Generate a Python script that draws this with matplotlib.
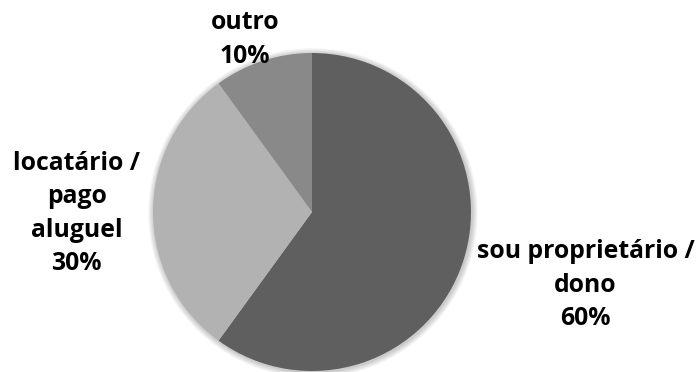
import matplotlib.pyplot as plt
from matplotlib.patches import Circle

# Data
categories = ["sou proprietário /\ndono", "locatário /\npago\naluguel", "outro"]
shares = [60, 30, 10]
colors = ["#5f5f5f", "#b2b2b2", "#898989"]

# label anchors (in pie radius units)
label_pos = [(1.72, -0.46), (-1.48, -0.01), (-0.42, 1.085)]

fig = plt.figure(figsize=(6.98, 3.72), dpi=100)
ax = fig.add_axes([0, 0, 1, 1])

# soft shadow round the pie
for i in range(6):
    ax.add_patch(Circle((0.006, -0.006), 1.0 + 0.006 * (i + 1), color="#000000",
                        alpha=0.035, lw=0, zorder=0))

wedges, _ = ax.pie(shares, colors=colors, startangle=90, counterclock=False,
                   radius=1.0, wedgeprops=dict(linewidth=0, zorder=1))

for name, val, (x, y) in zip(categories, shares, label_pos):
    ax.text(x, y, "{}\n{}%".format(name, val), ha="center", va="center",
            fontsize=17.8, fontweight="bold", family="Open Sans", linespacing=1.45,
            color="#000000")

r = 159.0
ax.set_xlim(-312 / r, (698 - 312) / r)
ax.set_ylim(-160 / r, (372 - 160) / r)
ax.set_aspect("auto")
ax.axis("off")

fig.savefig("out.png", dpi=100)
